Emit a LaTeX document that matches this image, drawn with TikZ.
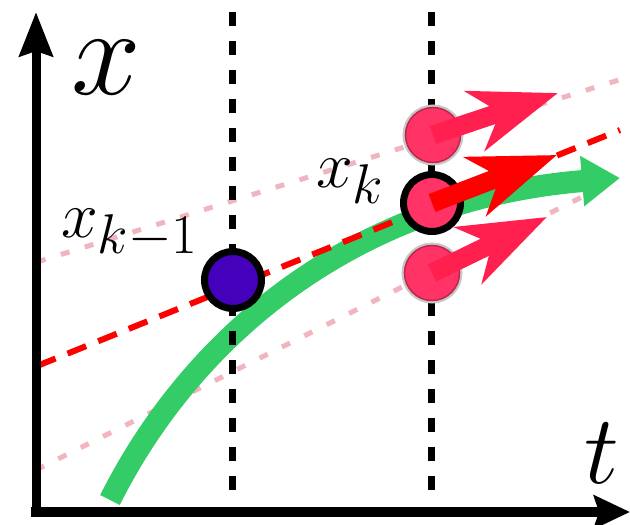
\RequirePackage{fix-cm}
\documentclass[tikz,border=0pt]{standalone}
\usetikzlibrary{arrows.meta}
\DeclareMathSizes{66}{66}{56}{44}
\definecolor{ballpink}{RGB}{255,51,102}
\definecolor{arrowpink}{RGB}{255,32,80}
\definecolor{ballblue}{RGB}{68,0,187}
\definecolor{curvegreen}{RGB}{51,204,102}
\definecolor{faintpink}{RGB}{242,180,190}
\tikzset{
  axisline/.style={line width=9pt, black},
  vdashline/.style={line width=7pt, black, dash pattern=on 14pt off 15pt},
  faintline/.style={line width=5pt, faintpink, dash pattern=on 9pt off 16pt},
  reddash/.style={line width=6pt, red, dash pattern=on 20pt off 13pt},
  greencurve/.style={line width=22pt, curvegreen, -{Triangle[length=38pt,width=48pt]}},
  pinkball/.style={circle, inner sep=0pt, minimum size=55pt, fill=ballpink,
    draw=ballpink!75!black, line width=1.5pt,
    preaction={draw=black!22, line width=6pt}},
  blackball/.style={circle, inner sep=0pt, minimum size=57pt, draw=black, line width=7pt},
  bigarrow/.style={line width=19pt, -{Stealth[length=87pt,width=62pt,inset=26pt]}},
  lab/.style={inner sep=0pt, text=black}
}
\begin{document}
\begin{tikzpicture}[x=1pt,y=-1pt]
\useasboundingbox (0,0) rectangle (630,525);
% faint dashed lines
\coordinate (fu1) at (37,262);
\coordinate (fu2) at (625,78);
\coordinate (fl1) at (36,470);
\coordinate (fl2) at (612,182);
\draw[faintline] (fu1) -- (fu2);
\draw[faintline] (fl1) -- (fl2);
% green trajectory
\coordinate (g1) at (110,500);
\coordinate (g2) at (620,178);
\draw[greencurve] (g1) .. controls (190,340) and (350,200) .. (g2);
% red dashed line
\coordinate (r1) at (37,366);
\coordinate (r2) at (620,130);
\draw[reddash] (r1) -- (r2);
% vertical dashed lines
\coordinate (v1a) at (232,12);
\coordinate (v1b) at (232,502);
\coordinate (v2a) at (431,12);
\coordinate (v2b) at (431,502);
\draw[vdashline] (v1a) -- (v1b);
\draw[vdashline] (v2a) -- (v2b);
% axes
\coordinate (ya) at (36,517);
\coordinate (yb) at (36,12);
\coordinate (xa) at (31,512);
\coordinate (xb) at (630,512);
\draw[axisline, -{Stealth[length=44pt,width=33pt,inset=5pt]}] (ya) -- (yb);
\draw[axisline, line width=10pt, -{Stealth[length=36pt,width=33pt,inset=5pt]}] (xa) -- (xb);
% balls
\node[pinkball] (up) at (433,135) {};
\node[pinkball] (lo) at (432,273) {};
\node[blackball, fill=ballblue] (xkm) at (233,280) {};
\node[blackball, fill=ballpink] (xk) at (432,203) {};
% arrows
\coordinate (upt) at (558,93);
\coordinate (xkt) at (557,155);
\coordinate (lot) at (547,217);
\draw[bigarrow, arrowpink] (up.center) -- (upt);
\draw[bigarrow, arrowpink] (lo.center) -- (lot);
\draw[bigarrow, red] (xk.center) -- (xkt);
% labels
\node[lab, anchor=base] (xlab) at (106,94) {\fontsize{125}{125}\selectfont$x$};
\node[lab, anchor=base] (tlab) at (602,483) {\fontsize{98}{98}\selectfont$t$};
\node[lab, anchor=base west] (xklab) at (316,187) {\fontsize{66}{66}\selectfont$x_k$};
\node[lab, anchor=base west] (xkmlab) at (61,237) {\fontsize{66}{66}\selectfont$x_{k-1}$};
\end{tikzpicture}
\end{document}
